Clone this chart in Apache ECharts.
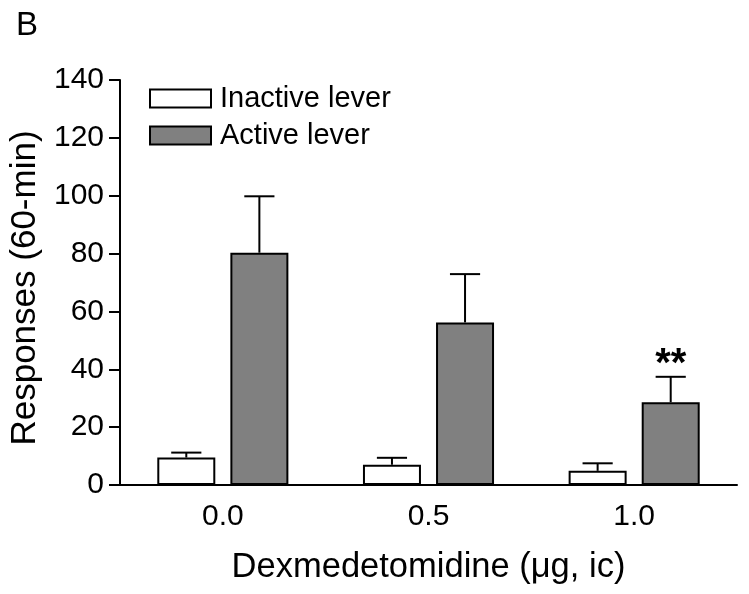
<!DOCTYPE html>
<html>
<head>
<meta charset="utf-8">
<script src="https://cdn.jsdelivr.net/npm/echarts@6/dist/echarts.min.js"></script>
<style>
html,body{margin:0;padding:0;background:#fff;}
#chart{width:749px;height:594px;}
</style>
</head>
<body>
<div id="chart"></div>
<script>
const categories = ['0.0', '0.5', '1.0'];
const inactiveMean = [9.5, 7.0, 4.9];
const inactiveErr = [1.7, 2.4, 2.6];
const activeMean = [80.3, 56.2, 28.6];
const activeErr = [19.5, 16.7, 8.8];
const activeAnnot = ['', '', '**'];
const yMin = 0, yMax = 140, yInterval = 20;

const FONT = "'Liberation Sans', Arial, sans-serif";
const BAR_W = 0.282, BAR_GAP = 0.26;

const chart = echarts.init(document.getElementById('chart'), null, {renderer: 'canvas'});

function errSeries(name, means, errs, sign, annots) {
  const data = means.map((m, i) => [i, m, errs[i], annots ? annots[i] : '']);
  return {
    type: 'custom',
    name: name + ' err',
    z: 5,
    silent: true,
    data: data,
    renderItem: function (params, api) {
      const idx = api.value(0);
      const mean = api.value(1);
      const err = api.value(2);
      const note = data[params.dataIndex][3];
      const band = api.size([1, 0])[0];
      const bw = band * BAR_W;
      const off = sign * (bw + bw * BAR_GAP) / 2;
      const cx = api.coord([idx, 0])[0] + off;
      const yb = api.coord([idx, mean])[1];
      const yt = api.coord([idx, mean + err])[1];
      const capHalf = bw * 0.26;
      const children = [
        {type: 'line', shape: {x1: cx, y1: yb, x2: cx, y2: yt}, style: {stroke: '#000', lineWidth: 2}},
        {type: 'line', shape: {x1: cx - capHalf, y1: yt, x2: cx + capHalf, y2: yt}, style: {stroke: '#000', lineWidth: 2}}
      ];
      if (note) {
        children.push({type: 'text', x: cx, y: yt - 12, style: {text: note, font: 'bold 40px ' + FONT, fill: '#000', align: 'center', verticalAlign: 'middle'}});
      }
      return {type: 'group', children: children};
    }
  };
}

const option = {
  backgroundColor: '#fff',
  animation: false,
  title: {
    text: 'B', left: 11, top: 4,
    textStyle: {fontFamily: FONT, fontSize: 33, fontWeight: 'normal', color: '#000'}
  },
  grid: {left: 120, right: 12, top: 80, bottom: 109, containLabel: false},
  legend: {
    orient: 'vertical', left: 149, top: 84, padding: 0,
    itemWidth: 61, itemHeight: 18, itemGap: 8,
    icon: 'rect',
    data: ['Inactive lever', 'Active lever'],
    textStyle: {fontFamily: FONT, fontSize: 29, color: '#000', lineHeight: 29, padding: [0, 0, 0, 4]},
    itemStyle: {borderColor: '#000', borderWidth: 2}
  },
  xAxis: {
    type: 'category',
    data: categories,
    name: 'Dexmedetomidine (\u03bcg, ic)',
    nameLocation: 'middle',
    nameGap: 65,
    nameTextStyle: {fontFamily: FONT, fontSize: 34.5, color: '#000'},
    axisLine: {lineStyle: {color: '#000', width: 2}},
    axisTick: {alignWithLabel: true, length: 8, lineStyle: {color: '#000', width: 2}},
    axisLabel: {fontFamily: FONT, fontSize: 30, color: '#000', margin: 17}
  },
  yAxis: {
    type: 'value',
    min: yMin, max: yMax, interval: yInterval,
    name: 'Responses (60-min)',
    nameLocation: 'middle',
    nameGap: 76,
    nameTextStyle: {fontFamily: FONT, fontSize: 35, color: '#000', padding: [0, 11, 0, 0]},
    axisLine: {show: true, lineStyle: {color: '#000', width: 2}},
    axisTick: {show: true, length: 11, lineStyle: {color: '#000', width: 2}},
    axisLabel: {fontFamily: FONT, fontSize: 30, color: '#000', margin: 16},
    splitLine: {show: false}
  },
  series: [
    {
      name: 'Inactive lever', type: 'bar', data: inactiveMean,
      barWidth: (BAR_W * 100) + '%', barGap: (BAR_GAP * 100) + '%',
      itemStyle: {color: '#ffffff', borderColor: '#000', borderWidth: 2}
    },
    {
      name: 'Active lever', type: 'bar', data: activeMean,
      barWidth: (BAR_W * 100) + '%', barGap: (BAR_GAP * 100) + '%',
      itemStyle: {color: '#808080', borderColor: '#000', borderWidth: 2}
    },
    errSeries('Inactive lever', inactiveMean, inactiveErr, -1, null),
    errSeries('Active lever', activeMean, activeErr, 1, activeAnnot)
  ]
};
chart.setOption(option);
</script>
</body>
</html>
